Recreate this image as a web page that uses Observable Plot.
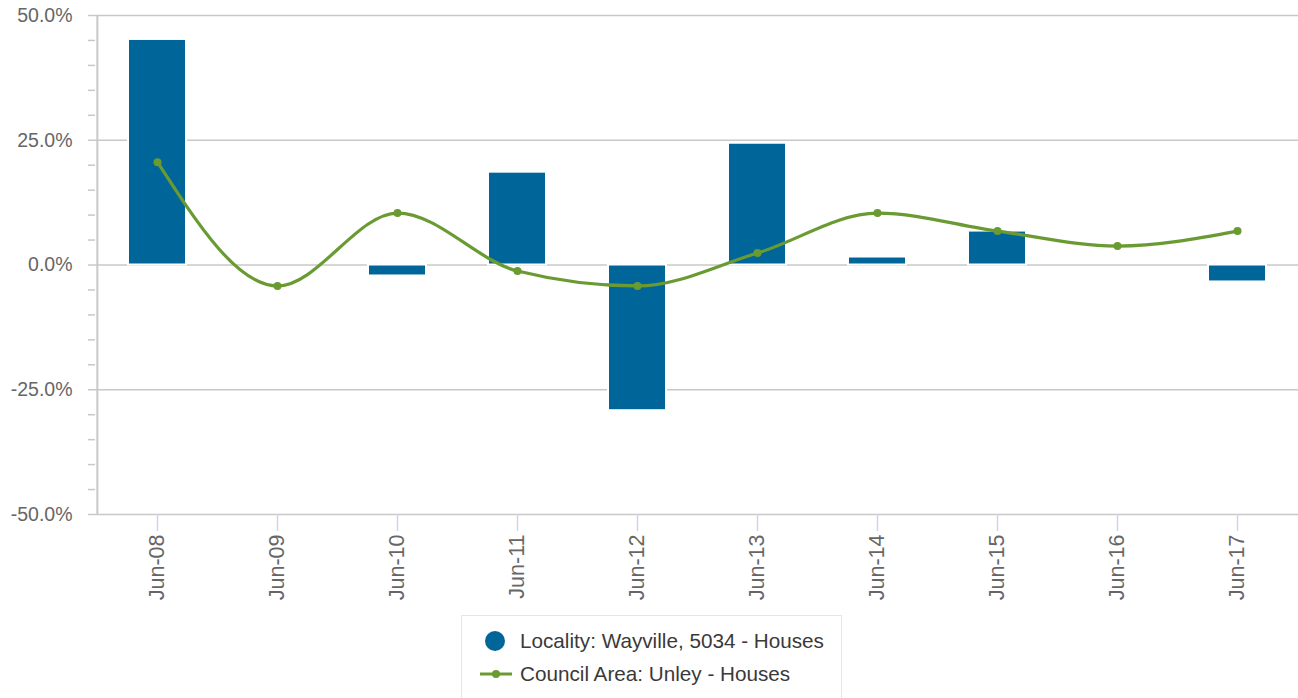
<!DOCTYPE html>
<html>
<head>
<meta charset="utf-8">
<script src="https://cdn.jsdelivr.net/npm/d3@7"></script>
<script src="https://cdn.jsdelivr.net/npm/@observablehq/plot@0.6"></script>
<style>
  body { margin: 0; background: #fff; font-family: "Liberation Sans", Arial, sans-serif; }
  #chart { width: 1298px; }
  #chart svg { display: block; }
  #legend {
    position: relative; margin-left: 461px; margin-top: 5px; width: 381px; height: 90px;
    border: 1px solid #e6e6e6; box-sizing: border-box; background: #fff;
    font-size: 20.7px; color: #3a3a3a;
  }
  .item { position: absolute; display: flex; align-items: center; white-space: nowrap; }
</style>
</head>
<body>
<div id="chart"></div>
<script>
const categories = ["Jun-08","Jun-09","Jun-10","Jun-11","Jun-12","Jun-13","Jun-14","Jun-15","Jun-16","Jun-17"];
const localityValues = [45.2, 0, -2.2, 18.6, -29.2, 24.4, 1.6, 6.8, 0, -3.4];
const councilValues = [20.6, -4.2, 10.4, -1.2, -4.2, 2.4, 10.4, 6.8, 3.8, 6.8];
const yTicks = [-50, -25, 0, 25, 50];
const yMinorTicks = [-45,-40,-35,-30,-20,-15,-10,-5,5,10,15,20,30,35,40,45];
const seriesNames = ["Locality: Wayville, 5034 - Houses", "Council Area: Unley - Houses"];

const blue = "#006699";
const green = "#6a9a32";

const bars = categories.map((c, i) => ({cat: c, v: localityValues[i]}));
const line = categories.map((c, i) => ({cat: c, v: councilValues[i]}));

const chart = document.getElementById("chart");

const plot = Plot.plot({
  width: 1298,
  height: 610,
  marginLeft: 95,
  marginRight: 0,
  marginTop: 15,
  marginBottom: 96,
  style: { fontFamily: "'Liberation Sans', Arial, sans-serif", fontSize: "20px", color: "#666", background: "#fff" },
  x: { domain: categories, paddingInner: 0.52, paddingOuter: 0.26, align: 0.5, axis: null, label: null },
  y: { domain: [-50, 50], axis: null, label: null },
  marks: [
    Plot.ruleY(yTicks, { stroke: "#c8c8c8", strokeWidth: 1.5 }),
    Plot.axisY({ ticks: yTicks, tickSize: 7, tickFormat: d => d.toFixed(1) + "%", tickPadding: 16, stroke: "#c8c8c8", color: "#666", fontSize: 19.5, strokeWidth: 1.5, label: null }),
    Plot.axisY({ ticks: yMinorTicks, tickSize: 7, tickFormat: () => "", stroke: "#c8c8c8", strokeWidth: 1.5, label: null }),
    Plot.ruleX([categories[0]], { x: d => d, dx: -60.15, y1: -50, y2: 50, stroke: "#c8c8c8", strokeWidth: 2 }),
    Plot.barY(bars, { x: "cat", y: "v", fill: blue, stroke: "#ffffff", strokeWidth: 2 }),
    Plot.axisX({ tickSize: 17, tickRotate: -90, tickPadding: 3, stroke: "#ccd6eb", color: "#666", fontSize: 21.5, strokeWidth: 1.5, label: null }),
    Plot.lineY(line, { x: "cat", y: "v", stroke: green, strokeWidth: 3.2, curve: "monotone-x" }),
    Plot.dot(line, { x: "cat", y: "v", fill: green, r: 4 })
  ]
});
chart.appendChild(plot);

const legend = document.createElement("div");
legend.id = "legend";
legend.innerHTML =
  '<div class="item" style="top:13px;left:22px;"><svg width="22" height="22"><circle cx="11" cy="11" r="10" fill="' + blue + '"/></svg><span style="margin-left:14px">' + seriesNames[0] + '</span></div>' +
  '<div class="item" style="top:46px;left:18px;"><svg width="32" height="12"><line x1="0" y1="6" x2="32" y2="6" stroke="' + green + '" stroke-width="3"/><circle cx="16" cy="6" r="4" fill="' + green + '"/></svg><span style="margin-left:8px">' + seriesNames[1] + '</span></div>';
chart.appendChild(legend);
</script>
</body>
</html>
